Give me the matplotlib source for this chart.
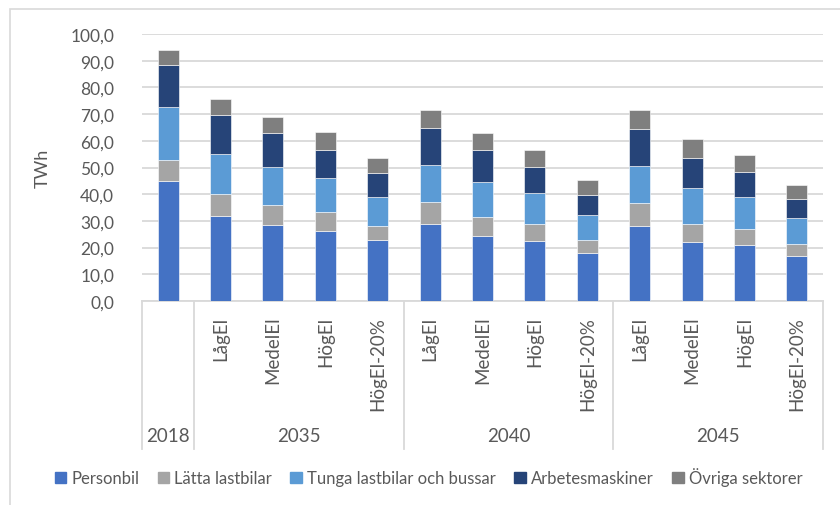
import numpy as np
import matplotlib
matplotlib.use("Agg")
from matplotlib import pyplot as plt
from matplotlib.patches import Patch, Rectangle
from matplotlib.ticker import FuncFormatter

plt.rcParams['font.family'] = ['Lato', 'DejaVu Sans']

# data (TWh), one value per bar
years = ['2018', '2035', '2040', '2045']
scenarios = ['LågEl', 'MedelEl', 'HögEl', 'HögEl-20%']
sub_labels = [''] + scenarios * 3

personbil = [45.1, 31.8, 28.6, 26.4, 22.7, 28.9, 24.3, 22.5, 18.1, 28.1, 22.2, 20.9, 16.7]
latta = [7.6, 8.3, 7.4, 6.8, 5.4, 8.2, 7.1, 6.3, 4.8, 8.6, 6.7, 5.9, 4.6]
tunga = [20.1, 15.1, 14.2, 12.8, 10.8, 13.8, 13.3, 11.8, 9.4, 13.9, 13.3, 12.1, 9.6]
arbets = [15.6, 14.4, 12.6, 10.5, 9.2, 13.9, 11.8, 9.6, 7.4, 13.8, 11.3, 9.3, 7.2]
ovriga = [5.7, 6.1, 6.2, 6.7, 5.5, 6.7, 6.6, 6.2, 5.5, 7.1, 7.1, 6.6, 5.4]

series = [('Personbil', personbil, '#4472C4'),
          ('Lätta lastbilar', latta, '#A5A5A5'),
          ('Tunga lastbilar och bussar', tunga, '#5B9BD5'),
          ('Arbetesmaskiner', arbets, '#264478'),
          ('Övriga sektorer', ovriga, '#7F7F7F')]

txt = '#595959'
grid = '#D9D9D9'

fig = plt.figure(figsize=(8.4, 5.06), dpi=100)
ax = fig.add_axes([142/840, 1 - 302/506, (823-142)/840, 267/506])

x = np.arange(len(personbil))
bottom = np.zeros(len(x))
for name, vals, col in series:
    ax.bar(x, vals, 0.4, bottom=bottom, color=col, label=name,
           edgecolor='white', linewidth=0.4, zorder=3)
    bottom += np.array(vals)

ax.set_xlim(-0.5, 12.5)
ax.set_ylim(0, 100)
ax.set_yticks(np.arange(0, 101, 10))
ax.yaxis.set_major_formatter(FuncFormatter(lambda v, p: f'{v:.1f}'.replace('.', ',')))
ax.tick_params(axis='y', length=0, pad=20, labelsize=12.5, labelcolor=txt)
ax.set_xticks([])
ax.grid(axis='y', color=grid, linewidth=1.3, zorder=0)
for s in ['top', 'right', 'left']:
    ax.spines[s].set_visible(False)
ax.spines['bottom'].set_color(grid)
ax.spines['bottom'].set_linewidth(1.3)
ax.set_ylabel('TWh', fontsize=13, color=txt, labelpad=14)

# two-level category axis
tr = ax.get_xaxis_transform()
for sep in [-0.5, 0.5, 4.5, 8.5, 12.5]:
    ax.plot([sep, sep], [0, -0.555], transform=tr, color=grid, lw=1.3, clip_on=False)
for xi, lab in zip(x, sub_labels):
    ax.text(xi, -0.055, lab, transform=tr, rotation=90, ha='center', va='top',
            fontsize=13.5, color=txt)
group_centers = [0, 2.5, 6.5, 10.5]
for gc, yr in zip(group_centers, years):
    ax.text(gc, -0.505, yr, transform=tr, ha='center', va='center',
            fontsize=13.5, color=txt)

handles = [Patch(color=c, label=n) for n, v, c in series]
fig.legend(handles=handles, loc='center', bbox_to_anchor=(0.51, 1 - 478/506), ncol=5,
           frameon=False, fontsize=12, handlelength=0.7, handleheight=0.7,
           handletextpad=0.3, columnspacing=1.1, labelcolor=txt)

fig.patches.append(Rectangle((10/840, -0.1), 1.2, 1 - 9.5/506 + 0.1, transform=fig.transFigure,
                             fill=False, edgecolor=grid, linewidth=1.2))

fig.savefig('out.png', dpi=100)
